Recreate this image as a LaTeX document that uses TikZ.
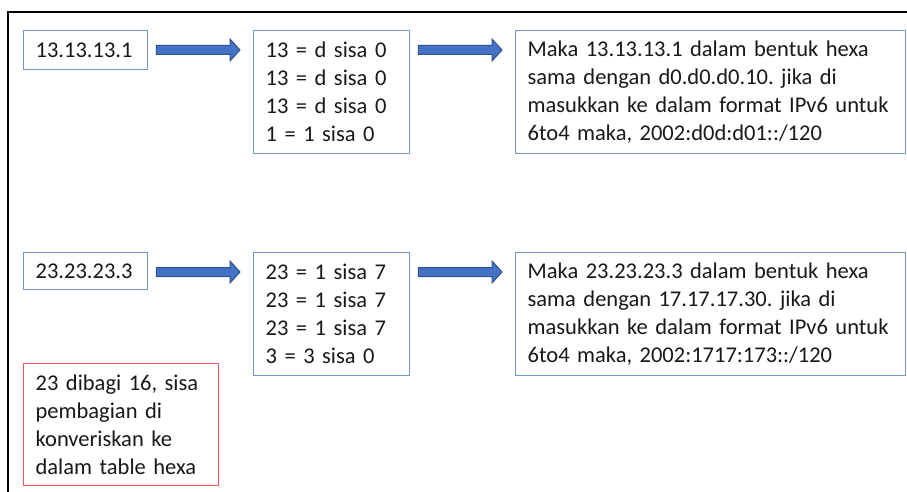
\documentclass[tikz,border=0pt]{standalone}
\usepackage{fontspec}
\setmainfont{Carlito}
\usetikzlibrary{calc}
\frenchspacing
\hyphenpenalty=10000
\definecolor{boxblue}{RGB}{112,150,214}
\definecolor{arrowfill}{RGB}{68,114,196}
\definecolor{arrowline}{RGB}{47,82,143}
\definecolor{boxred}{RGB}{255,85,85}
\definecolor{txt}{RGB}{25,25,25}
\tikzset{
  box/.style={draw=boxblue, line width=1.3pt, anchor=north west, align=left,
    inner xsep=12pt, inner ysep=0pt, text=txt,
    font=\fontsize{22.5}{28}\selectfont\frenchspacing},
  redbox/.style={box, draw=boxred},
  blockarrow/.style={fill=arrowfill, draw=arrowline, line width=1pt, line join=miter}
}
\begin{document}
\begin{tikzpicture}[x=1pt,y=-1pt]
\useasboundingbox (0,0) rectangle (907,492);
\fill[white] (0,0) rectangle (907,492);
\draw[line width=2pt, black] (8,493) -- (8,12) -- (908,12);

\node[box, text width=100pt, minimum height=39pt] (a) at (23,30) {13.13.13.1};
\node[box, text width=132pt, minimum height=123pt] (b) at (253,30)
  {13 = d sisa 0\\13 = d sisa 0\\13 = d sisa 0\\1 = 1 sisa 0};
\node[box, text width=366pt, minimum height=123pt] (c) at (515,30)
  {Maka 13.13.13.1 dalam bentuk hexa\\sama dengan d0.d0.d0.10. jika di\\masukkan ke dalam format IPv6 untuk\\6to4 maka, 2002:d0d:d01::/120};

\node[box, text width=100pt, minimum height=37pt] (d) at (23,252) {23.23.23.3};
\node[box, text width=132pt, minimum height=123pt] (e) at (253,252)
  {23 = 1 sisa 7\\23 = 1 sisa 7\\23 = 1 sisa 7\\3 = 3 sisa 0};
\node[box, text width=366pt, minimum height=123pt] (f) at (515,252)
  {Maka 23.23.23.3 dalam bentuk hexa\\sama dengan 17.17.17.30. jika di\\masukkan ke dalam format IPv6 untuk\\6to4 maka, 2002:1717:173::/120};

\node[redbox, text width=171pt, minimum height=122pt] (g) at (23,363)
  {23 dibagi 16, sisa\\pembagian di\\konveriskan ke\\dalam table hexa};

% block arrows
\foreach \s/\t in {a/b, b/c, d/e, e/f}{
  \draw[blockarrow] let \p1=(\s.north east), \p2=(\t.west) in
    (\x1+8pt,\y1-15.5pt) -- (\x2-23pt,\y1-15.5pt) -- (\x2-23pt,\y1-9pt) -- (\x2-13pt,\y1-20pt)
    -- (\x2-23pt,\y1-31pt) -- (\x2-23pt,\y1-24.5pt) -- (\x1+8pt,\y1-24.5pt) -- cycle;
}
\end{tikzpicture}
\end{document}
